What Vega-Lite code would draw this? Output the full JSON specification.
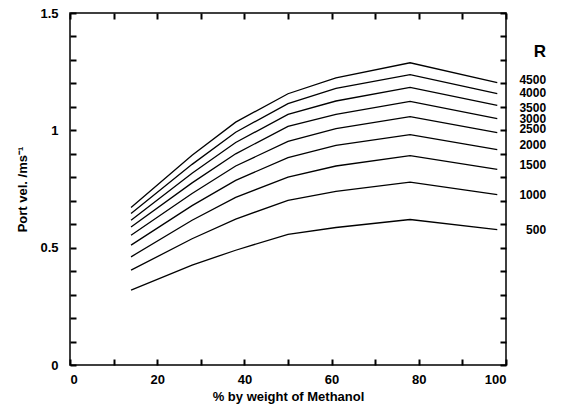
{
  "$schema": "https://vega.github.io/schema/vega-lite/v6.json",
  "width": 436,
  "height": 352,
  "autosize": {"type": "none"},
  "padding": {"left": 70, "top": 13, "right": 56, "bottom": 48},
  "background": "white",
  "datasets": {
    "lines": [
      {"R": 4500, "pct": 14, "v": 0.671}, {"R": 4500, "pct": 28, "v": 0.894}, {"R": 4500, "pct": 38, "v": 1.035}, {"R": 4500, "pct": 50, "v": 1.156}, {"R": 4500, "pct": 61, "v": 1.224}, {"R": 4500, "pct": 78, "v": 1.288}, {"R": 4500, "pct": 98, "v": 1.203},
      {"R": 4000, "pct": 14, "v": 0.646}, {"R": 4000, "pct": 28, "v": 0.855}, {"R": 4000, "pct": 38, "v": 0.992}, {"R": 4000, "pct": 50, "v": 1.114}, {"R": 4000, "pct": 61, "v": 1.179}, {"R": 4000, "pct": 78, "v": 1.237}, {"R": 4000, "pct": 98, "v": 1.156},
      {"R": 3500, "pct": 14, "v": 0.617}, {"R": 3500, "pct": 28, "v": 0.817}, {"R": 3500, "pct": 38, "v": 0.948}, {"R": 3500, "pct": 50, "v": 1.068}, {"R": 3500, "pct": 61, "v": 1.125}, {"R": 3500, "pct": 78, "v": 1.183}, {"R": 3500, "pct": 98, "v": 1.106},
      {"R": 3000, "pct": 14, "v": 0.588}, {"R": 3000, "pct": 28, "v": 0.776}, {"R": 3000, "pct": 38, "v": 0.900}, {"R": 3000, "pct": 50, "v": 1.017}, {"R": 3000, "pct": 61, "v": 1.068}, {"R": 3000, "pct": 78, "v": 1.123}, {"R": 3000, "pct": 98, "v": 1.050},
      {"R": 2500, "pct": 14, "v": 0.553}, {"R": 2500, "pct": 28, "v": 0.731}, {"R": 2500, "pct": 38, "v": 0.848}, {"R": 2500, "pct": 50, "v": 0.953}, {"R": 2500, "pct": 61, "v": 1.007}, {"R": 2500, "pct": 78, "v": 1.058}, {"R": 2500, "pct": 98, "v": 0.990},
      {"R": 2000, "pct": 14, "v": 0.511}, {"R": 2000, "pct": 28, "v": 0.679}, {"R": 2000, "pct": 38, "v": 0.787}, {"R": 2000, "pct": 50, "v": 0.884}, {"R": 2000, "pct": 61, "v": 0.936}, {"R": 2000, "pct": 78, "v": 0.982}, {"R": 2000, "pct": 98, "v": 0.918},
      {"R": 1500, "pct": 14, "v": 0.461}, {"R": 1500, "pct": 28, "v": 0.617}, {"R": 1500, "pct": 38, "v": 0.714}, {"R": 1500, "pct": 50, "v": 0.801}, {"R": 1500, "pct": 61, "v": 0.848}, {"R": 1500, "pct": 78, "v": 0.892}, {"R": 1500, "pct": 98, "v": 0.834},
      {"R": 1000, "pct": 14, "v": 0.404}, {"R": 1000, "pct": 28, "v": 0.538}, {"R": 1000, "pct": 38, "v": 0.622}, {"R": 1000, "pct": 50, "v": 0.702}, {"R": 1000, "pct": 61, "v": 0.740}, {"R": 1000, "pct": 78, "v": 0.779}, {"R": 1000, "pct": 98, "v": 0.726},
      {"R": 500, "pct": 14, "v": 0.319}, {"R": 500, "pct": 28, "v": 0.426}, {"R": 500, "pct": 38, "v": 0.489}, {"R": 500, "pct": 50, "v": 0.557}, {"R": 500, "pct": 61, "v": 0.586}, {"R": 500, "pct": 78, "v": 0.620}, {"R": 500, "pct": 98, "v": 0.577}
    ],
    "labels": [
      {"lbl": "R", "ly": 1.333},
      {"lbl": "4500", "ly": 1.216},
      {"lbl": "4000", "ly": 1.158},
      {"lbl": "3500", "ly": 1.096},
      {"lbl": "3000", "ly": 1.050},
      {"lbl": "2500", "ly": 1.004},
      {"lbl": "2000", "ly": 0.936},
      {"lbl": "1500", "ly": 0.851},
      {"lbl": "1000", "ly": 0.723},
      {"lbl": "500", "ly": 0.574}
    ]
  },
  "layer": [
    {
      "data": {"name": "lines"},
      "mark": {"type": "line", "color": "black", "strokeWidth": 1.3},
      "encoding": {
        "x": {
          "field": "pct", "type": "quantitative",
          "scale": {"domain": [0, 100], "nice": false},
          "axis": {
            "orient": "bottom",
            "title": "% by weight of Methanol",
            "values": [0, 20, 40, 60, 80, 100],
            "tickSize": 0,
            "labelPadding": 8,
            "titlePadding": 4
          }
        },
        "y": {
          "field": "v", "type": "quantitative",
          "scale": {"domain": [0, 1.5], "nice": false},
          "axis": {
            "orient": "left",
            "title": "Port vel. /ms⁻¹",
            "values": [0, 0.5, 1, 1.5],
            "format": "~g",
            "tickSize": 0,
            "labelPadding": 12,
            "titlePadding": 10
          }
        },
        "detail": {"field": "R", "type": "nominal"}
      }
    },
    {
      "data": {"name": "lines"},
      "mark": {"type": "line", "color": "black", "strokeOpacity": 0},
      "encoding": {
        "x": {
          "field": "pct", "type": "quantitative",
          "axis": {"orient": "top", "offset": -352, "title": null, "labels": false, "tickSize": 6, "tickWidth": 2, "tickColor": "#000000", "tickOpacity": 1, "values": [0, 10, 20, 30, 40, 50, 60, 70, 80, 90, 100]}
        },
        "y": {
          "field": "v", "type": "quantitative",
          "axis": {"orient": "right", "offset": -436, "title": null, "labels": false, "tickSize": 6, "tickWidth": 2, "tickColor": "#000000", "tickOpacity": 1, "values": [0, 0.1, 0.2, 0.3, 0.4, 0.5, 0.6, 0.7, 0.8, 0.9, 1, 1.1, 1.2, 1.3, 1.4, 1.5]}
        },
        "detail": {"field": "R", "type": "nominal"}
      }
    },
    {
      "data": {"name": "labels"},
      "mark": {"type": "text", "align": "right", "baseline": "middle", "font": "Liberation Sans", "fontWeight": "bold", "color": "black"},
      "encoding": {
        "x": {"datum": 109.2, "type": "quantitative",
          "axis": {"orient": "bottom", "offset": -352, "title": null, "labels": false, "tickSize": 6, "tickWidth": 2, "tickColor": "#000000", "tickOpacity": 1, "values": [0, 10, 20, 30, 40, 50, 60, 70, 80, 90, 100]}
        },
        "y": {"field": "ly", "type": "quantitative",
          "axis": {"orient": "left", "offset": -436, "title": null, "labels": false, "tickSize": 6, "tickWidth": 2, "tickColor": "#000000", "tickOpacity": 1, "values": [0, 0.1, 0.2, 0.3, 0.4, 0.5, 0.6, 0.7, 0.8, 0.9, 1, 1.1, 1.2, 1.3, 1.4, 1.5]}
        },
        "xOffset": {"condition": {"test": "datum.lbl === 'R'", "value": -8}, "value": 0},
        "size": {"condition": {"test": "datum.lbl === 'R'", "value": 17}, "value": 12},
        "text": {"field": "lbl"}
      }
    }
  ],
  "resolve": {"axis": {"x": "independent", "y": "independent"}},
  "config": {
    "view": {"stroke": "black", "strokeWidth": 1.5},
    "axis": {
      "grid": false,
      "domain": false,
      "labelFont": "Liberation Sans",
      "labelFontWeight": "bold",
      "labelFontSize": 13,
      "labelColor": "black",
      "titleFont": "Liberation Sans",
      "titleFontWeight": "bold",
      "titleFontSize": 13,
      "titleColor": "black"
    }
  }
}
